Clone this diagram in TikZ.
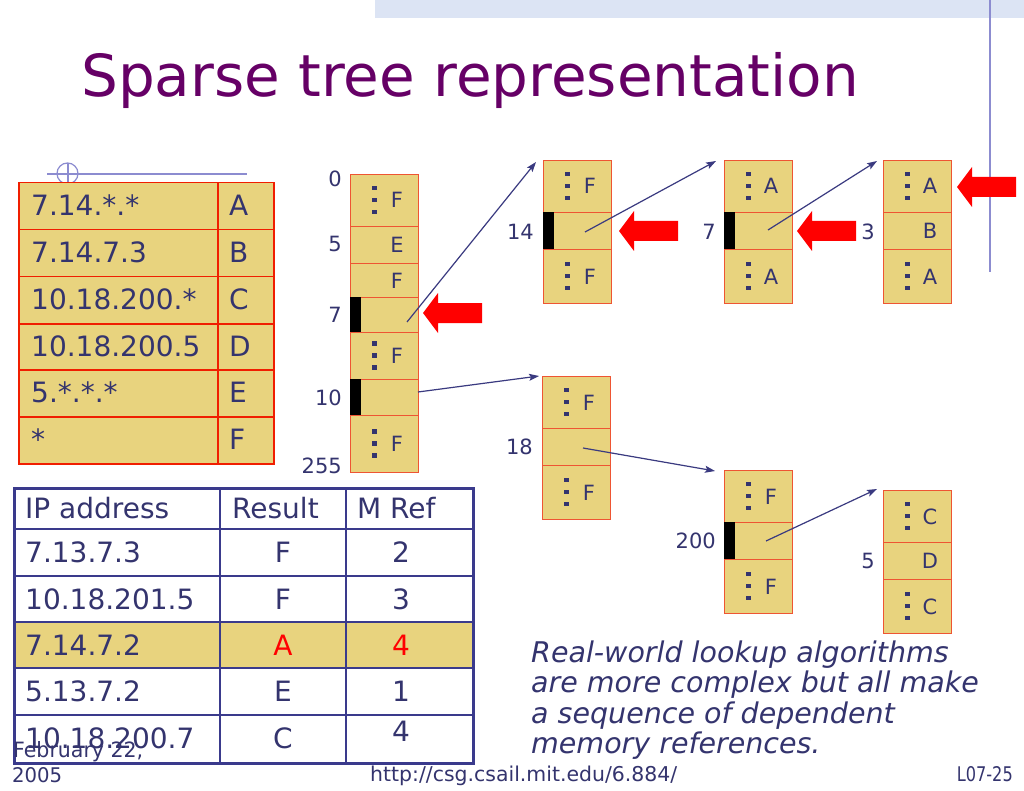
\documentclass[tikz,border=0pt]{standalone}
\usepackage{fontspec}
\setmainfont{DejaVu Sans}
\usetikzlibrary{arrows.meta}
\definecolor{txt}{HTML}{34346E}
\definecolor{tanfill}{HTML}{E8D37E}
\definecolor{boxred}{HTML}{EE5533}
\definecolor{tabred}{HTML}{F01E00}
\definecolor{navy}{HTML}{3A3A8C}
\definecolor{ptr}{HTML}{3A3A80}
\definecolor{ttl}{HTML}{660066}
\definecolor{barblue}{HTML}{DCE4F4}
\definecolor{rulecol}{HTML}{8C8CD0}
\tikzset{
  cellbox/.style={draw=boxred, fill=tanfill, line width=1.3pt, inner sep=0pt, anchor=north west, minimum width=68pt},
  ltcell/.style={draw=tabred, fill=tanfill, line width=1.5pt, inner sep=0pt, anchor=north west, minimum height=47pt},
  bodytxt/.style={inner sep=0pt, text=txt, font=\fontsize{28}{31}\selectfont},
  ittxt/.style={inner sep=0pt, text=txt, font=\fontsize{28.5}{31}\selectfont\itshape, anchor=base west},
  lbl/.style={inner sep=0pt, text=txt, font=\fontsize{21}{21}\selectfont, anchor=base east},
  lettr/.style={inner sep=0pt, text=txt, font=\fontsize{21}{21}\selectfont, anchor=base},
  ptrarrow/.style={draw=ptr, line width=1.2pt, -{Stealth[length=10pt,width=7pt,inset=2pt]}},
  redshape/.style={fill=red, draw=none},
  dotsq/.style={fill=txt, draw=none},
  foot/.style={inner sep=0pt, text=txt, font=\fontsize{20}{20}\selectfont},
}
\newcommand\tdots[2]{%
  \fill[dotsq] (#1-2.3,#2-14.3) rectangle (#1+2.3,#2-9.7);
  \fill[dotsq] (#1-2.3,#2-2.3) rectangle (#1+2.3,#2+2.3);
  \fill[dotsq] (#1-2.3,#2+9.7) rectangle (#1+2.3,#2+14.3);}
\newcommand\blackmark[3]{\fill[black] (#1,#2) rectangle (#1+11,#3);}
\newcommand\redarr[2]{\fill[redshape] (#1,#2) -- (#1+15,#2-20) -- (#1+15,#2-10) -- (#1+59,#2-10) -- (#1+59,#2+10) -- (#1+15,#2+10) -- (#1+15,#2+20) -- cycle;}
\begin{document}
\begin{tikzpicture}[x=1pt,y=-1pt]
\useasboundingbox (0,0) rectangle (1024,791);
\fill[white] (0,0) rectangle (1024,791);
% top decoration
\fill[barblue] (375,0) rectangle (1024,18);
\draw[rulecol, line width=1.2pt] (990,0) -- (990,272);
% title
\node[inner sep=0pt, anchor=base west, text=ttl, font=\fontsize{58}{60}\selectfont] (title) at (81,97) {Sparse tree representation};
% small ornament
\draw[rulecol, line width=1.2pt] (47,174) -- (247,174);
\draw[rulecol, line width=1.2pt] (67.5,173.5) circle (10.5);
\draw[rulecol, line width=1.2pt] (68,163) -- (68,183);
% left table
\node[ltcell, minimum width=199pt] (la1) at (18,182) {};
\node[ltcell, minimum width=56pt] (lb1) at (217,182) {};
\node[ltcell, minimum width=199pt] (la2) at (18,229) {};
\node[ltcell, minimum width=56pt] (lb2) at (217,229) {};
\node[ltcell, minimum width=199pt] (la3) at (18,276) {};
\node[ltcell, minimum width=56pt] (lb3) at (217,276) {};
\node[ltcell, minimum width=199pt] (la4) at (18,323) {};
\node[ltcell, minimum width=56pt] (lb4) at (217,323) {};
\node[ltcell, minimum width=199pt] (la5) at (18,369) {};
\node[ltcell, minimum width=56pt] (lb5) at (217,369) {};
\node[ltcell, minimum width=199pt] (la6) at (18,416) {};
\node[ltcell, minimum width=56pt] (lb6) at (217,416) {};
\node[bodytxt, anchor=base west] (lt1) at (31,215.5) {7.14.*.*};
\node[bodytxt, anchor=base west] (lt2) at (31,262.5) {7.14.7.3};
\node[bodytxt, anchor=base west] (lt3) at (31,309.5) {10.18.200.*};
\node[bodytxt, anchor=base west] (lt4) at (31,356) {10.18.200.5};
\node[bodytxt, anchor=base west] (lt5) at (31,402.5) {5.*.*.*};
\node[bodytxt, anchor=base west] (lt6) at (31,449.5) {*};
\node[bodytxt, anchor=base west] (lr1) at (229,215.5) {A};
\node[bodytxt, anchor=base west] (lr2) at (229,262.5) {B};
\node[bodytxt, anchor=base west] (lr3) at (229,309.5) {C};
\node[bodytxt, anchor=base west] (lr4) at (229,356) {D};
\node[bodytxt, anchor=base west] (lr5) at (229,402.5) {E};
\node[bodytxt, anchor=base west] (lr6) at (229,449.5) {F};
% main column
\node[cellbox, minimum height=52pt] (m1) at (350,174) {};
\node[cellbox, minimum height=37pt] (m2) at (350,226) {};
\node[cellbox, minimum height=34pt] (m3) at (350,263) {};
\node[cellbox, minimum height=35pt] (m4) at (350,297) {};
\node[cellbox, minimum height=47pt] (m5) at (350,332) {};
\node[cellbox, minimum height=36pt] (m6) at (350,379) {};
\node[cellbox, minimum height=57pt] (m7) at (350,415) {};
\blackmark{350}{297}{332}
\blackmark{350}{379}{415}
\tdots{374.5}{200}
\tdots{374.5}{355.5}
\tdots{374.5}{443.5}
\node[lettr] (mf1) at (397,208) {F};
\node[lettr] (me2) at (397,252.5) {E};
\node[lettr] (mf3) at (397,288) {F};
\node[lettr] (mf5) at (397,363.5) {F};
\node[lettr] (mf7) at (397,451.5) {F};
\node[lbl] (n0) at (342,187) {0};
\node[lbl] (n5) at (342,252) {5};
\node[lbl] (n7) at (342,322) {7};
\node[lbl] (n10) at (342,405) {10};
\node[lbl] (n255) at (342,473) {255};
% box 14
\node[cellbox, minimum height=52pt] (p1) at (543,160) {};
\node[cellbox, minimum height=37pt] (p2) at (543,212) {};
\node[cellbox, minimum height=54pt] (p3) at (543,249) {};
\blackmark{543}{212}{249}
\tdots{567.5}{186}
\tdots{567.5}{276}
\node[lettr] (pf1) at (590,194) {F};
\node[lettr] (pf3) at (590,284) {F};
\node[lbl] (n14) at (534,240) {14};
% box 7
\node[cellbox, minimum height=52pt] (q1) at (724,160) {};
\node[cellbox, minimum height=37pt] (q2) at (724,212) {};
\node[cellbox, minimum height=54pt] (q3) at (724,249) {};
\blackmark{724}{212}{249}
\tdots{748.5}{186}
\tdots{748.5}{276}
\node[lettr] (qa1) at (771,194) {A};
\node[lettr] (qa3) at (771,284) {A};
\node[lbl] (nq7) at (716,240) {7};
% box 3
\node[cellbox, minimum height=52pt] (r1) at (883,160) {};
\node[cellbox, minimum height=37pt] (r2) at (883,212) {};
\node[cellbox, minimum height=54pt] (r3) at (883,249) {};
\tdots{907.5}{186}
\tdots{907.5}{276}
\node[lettr] (ra1) at (930,194) {A};
\node[lettr] (rb2) at (930,238.5) {B};
\node[lettr] (ra3) at (930,284) {A};
\node[lbl] (nr3) at (875,240) {3};
% box 18
\node[cellbox, minimum height=52pt] (s1b) at (542,376) {};
\node[cellbox, minimum height=37pt] (s2b) at (542,428) {};
\node[cellbox, minimum height=54pt] (s3b) at (542,465) {};
\tdots{566.5}{402}
\tdots{566.5}{492}
\node[lettr] (sf1) at (589,410) {F};
\node[lettr] (sf3) at (589,500) {F};
\node[lbl] (n18) at (533,454) {18};
% box 200
\node[cellbox, minimum height=52pt] (u1) at (724,470) {};
\node[cellbox, minimum height=37pt] (u2) at (724,522) {};
\node[cellbox, minimum height=54pt] (u3) at (724,559) {};
\blackmark{724}{522}{559}
\tdots{748.5}{496}
\tdots{748.5}{586}
\node[lettr] (uf1) at (771,504) {F};
\node[lettr] (uf3) at (771,594) {F};
\node[lbl] (n200) at (716,548) {200};
% box 5
\node[cellbox, minimum height=52pt] (v1) at (883,490) {};
\node[cellbox, minimum height=37pt] (v2) at (883,542) {};
\node[cellbox, minimum height=54pt] (v3) at (883,579) {};
\tdots{907.5}{516}
\tdots{907.5}{606}
\node[lettr] (vc1) at (930,524) {C};
\node[lettr] (vd2) at (930,568.5) {D};
\node[lettr] (vc3) at (930,614) {C};
\node[lbl] (nv5) at (875,568) {5};
% pointer arrows
\coordinate (a1s) at (407,322); \coordinate (a1e) at (536,162);
\coordinate (a2s) at (418,392); \coordinate (a2e) at (539,376);
\coordinate (a3s) at (585,232); \coordinate (a3e) at (716,161);
\coordinate (a4s) at (768,230); \coordinate (a4e) at (877,161);
\coordinate (a5s) at (583,448); \coordinate (a5e) at (715,471);
\coordinate (a6s) at (766,541); \coordinate (a6e) at (877,489);
\draw[ptrarrow] (a1s) -- (a1e);
\draw[ptrarrow] (a2s) -- (a2e);
\draw[ptrarrow] (a3s) -- (a3e);
\draw[ptrarrow] (a4s) -- (a4e);
\draw[ptrarrow] (a5s) -- (a5e);
\draw[ptrarrow] (a6s) -- (a6e);
% red arrows
\redarr{423}{313}
\redarr{619}{231}
\redarr{797}{231}
\redarr{957}{187}
% bottom table
\fill[tanfill] (13,622) rectangle (472,668);
\draw[navy, line width=1.5pt] (220,487) -- (220,762);
\draw[navy, line width=1.5pt] (346,487) -- (346,762);
\foreach \yy in {529,576,622,668,715} {\draw[navy, line width=1.5pt] (13,\yy) -- (472,\yy);}
\node[draw=navy, line width=3pt, inner sep=0pt, anchor=north west, minimum width=459pt, minimum height=275pt] (btab) at (13,487) {};
\node[bodytxt, anchor=base west] (h1) at (25,518) {IP address};
\node[bodytxt, anchor=base west] (h2) at (232,518) {Result};
\node[bodytxt, anchor=base west] (h3) at (357,518) {M Ref};
\node[bodytxt, anchor=base west] (c11) at (25,562.5) {7.13.7.3};
\node[bodytxt, anchor=base west] (c21) at (25,609) {10.18.201.5};
\node[bodytxt, anchor=base west] (c31) at (25,655) {7.14.7.2};
\node[bodytxt, anchor=base west] (c41) at (25,701.5) {5.13.7.2};
\node[bodytxt, anchor=base west] (c51) at (25,748.5) {10.18.200.7};
\node[bodytxt, anchor=base] (c12) at (283,562.5) {F};
\node[bodytxt, anchor=base] (c22) at (283,609) {F};
\node[bodytxt, anchor=base, text=red] (c32) at (283,655) {A};
\node[bodytxt, anchor=base] (c42) at (283,701.5) {E};
\node[bodytxt, anchor=base] (c52) at (283,748.5) {C};
\node[bodytxt, anchor=base] (c13) at (401,562.5) {2};
\node[bodytxt, anchor=base] (c23) at (401,609) {3};
\node[bodytxt, anchor=base, text=red] (c33) at (401,655) {4};
\node[bodytxt, anchor=base] (c43) at (401,701.5) {1};
\node[bodytxt, anchor=base] (c53) at (401,741.5) {4};
% italic note
\node[ittxt] (it1) at (531,662) {Real-world lookup algorithms};
\node[ittxt] (it2) at (531,692.5) {are more complex but all make};
\node[ittxt] (it3) at (531,723) {a sequence of dependent};
\node[ittxt] (it4) at (531,753.5) {memory references.};
% footer
\node[foot, anchor=base west] (f1) at (13,757) {\resizebox{130pt}{16pt}{February 22,}};
\node[foot, anchor=base west] (f2) at (12,782) {\resizebox{50pt}{15pt}{2005}};
\node[foot, anchor=base west] (f3) at (370,781) {\resizebox{307pt}{15.5pt}{http://csg.csail.mit.edu/6.884/}};
\node[foot, anchor=base east] (f4) at (1013,781) {\resizebox{56pt}{15pt}{L07-25}};
\end{tikzpicture}
\end{document}
